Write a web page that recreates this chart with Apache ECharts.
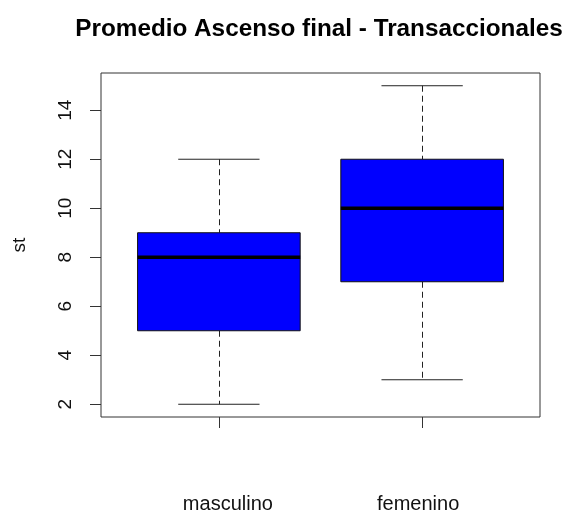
<!DOCTYPE html>
<html>
<head>
<meta charset="utf-8">
<script src="https://cdn.jsdelivr.net/npm/echarts@6/dist/echarts.min.js"></script>
<style>
  html, body { margin: 0; padding: 0; background: #fff; }
  #chart { width: 570px; height: 514px; }
</style>
</head>
<body>
<div id="chart"></div>
<script>
// Groups and their five-number summaries (min, Q1, median, Q3, max)
const categories = ['masculino', 'femenino'];
const minValues = [2, 3];
const q1Values = [5, 7];
const medianValues = [8, 10];
const q3Values = [9, 12];
const maxValues = [12, 15];
const yTicks = [2, 4, 6, 8, 10, 12, 14];

const boxData = categories.map((c, i) => [i + 1, minValues[i], q1Values[i], medianValues[i], q3Values[i], maxValues[i]]);

const BOX_HALF = 0.4;   // half box width in x units
const CAP_HALF = 0.2;   // half whisker-cap width

function renderBox(params, api) {
  const x = api.value(0);
  const lo = api.value(1), q1 = api.value(2), med = api.value(3), q3 = api.value(4), hi = api.value(5);
  const pL = api.coord([x - BOX_HALF, q3]);
  const pR = api.coord([x + BOX_HALF, q1]);
  const c = api.coord([x, med]);
  const capL = api.coord([x - CAP_HALF, lo])[0];
  const capR = api.coord([x + CAP_HALF, lo])[0];
  const yLo = api.coord([x, lo])[1];
  const yHi = api.coord([x, hi])[1];
  const yQ1 = api.coord([x, q1])[1];
  const yQ3 = api.coord([x, q3])[1];
  const cx = Math.round(c[0]) + 0.5;
  const whisker = { stroke: '#222', lineWidth: 1, lineDash: [6, 4] };
  const solid = { stroke: '#222', lineWidth: 1 };
  return {
    type: 'group',
    children: [
      { type: 'line', shape: { x1: cx, y1: yHi, x2: cx, y2: yQ3 }, style: whisker },
      { type: 'line', shape: { x1: cx, y1: yQ1, x2: cx, y2: yLo }, style: whisker },
      { type: 'line', shape: { x1: capL, y1: yHi, x2: capR, y2: yHi }, style: solid },
      { type: 'line', shape: { x1: capL, y1: yLo, x2: capR, y2: yLo }, style: solid },
      { type: 'rect', shape: { x: pL[0], y: pL[1], width: pR[0] - pL[0], height: pR[1] - pL[1] },
        style: { fill: '#0000ff', stroke: '#111', lineWidth: 1 } },
      { type: 'line', shape: { x1: pL[0], y1: c[1], x2: pR[0], y2: c[1] },
        style: { stroke: '#000', lineWidth: 3.5 } }
    ]
  };
}

const chart = echarts.init(document.getElementById('chart'), null, { renderer: 'canvas' });
chart.setOption({
  animation: false,
  backgroundColor: '#ffffff',
  textStyle: { fontFamily: 'Liberation Sans, Arial, sans-serif' },
  title: {
    text: 'Promedio Ascenso final - Transaccionales',
    left: 314, top: 12, textAlign: 'center',
    textStyle: { fontSize: 24.3, fontWeight: 'bold', color: '#000', fontFamily: 'Liberation Sans, Arial, sans-serif' }
  },
  grid: {
    left: 101, right: 30, top: 73, bottom: 96,
    show: true, borderColor: '#333', borderWidth: 1, backgroundColor: 'transparent'
  },
  xAxis: {
    type: 'value', min: 0.42, max: 2.58,
    splitLine: { show: false },
    axisLine: { show: false },
    axisTick: { show: true, length: 11, customValues: [1, 2], lineStyle: { color: '#333' } },
    axisLabel: {
      customValues: [1, 2], margin: 77, fontSize: 20, color: '#111',
      formatter: v => {
        const i = Math.round(v) - 1;
        return i === 0 ? '{a|' + categories[0] + '}' : '{b|' + categories[1] + '}';
      },
      rich: {
        a: { fontSize: 20, color: '#111', padding: [0, 0, 0, 18] },
        b: { fontSize: 20, color: '#111', padding: [0, 8, 0, 0] }
      }
    }
  },
  yAxis: {
    type: 'value', min: 1.48, max: 15.52,
    name: 'st', nameLocation: 'middle', nameGap: 72, nameRotate: 90,
    nameTextStyle: { fontSize: 19, color: '#111' },
    splitLine: { show: false },
    axisLine: { show: false },
    axisTick: { show: true, length: 11, customValues: yTicks, lineStyle: { color: '#333' } },
    axisLabel: { customValues: yTicks, rotate: 90, margin: 26, fontSize: 19, color: '#111' }
  },
  series: [{
    type: 'custom',
    renderItem: renderBox,
    encode: { x: 0, y: [1, 2, 3, 4, 5] },
    data: boxData,
    clip: false
  }]
});
</script>
</body>
</html>
